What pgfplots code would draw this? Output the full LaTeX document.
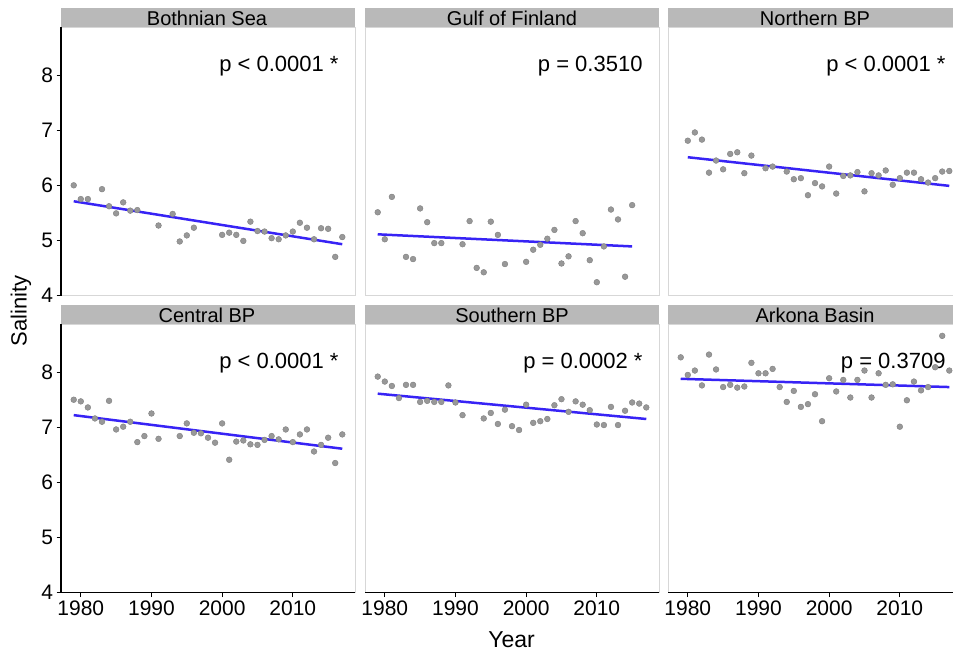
\documentclass[border=0pt]{standalone}
\usepackage{fontspec}
\setmainfont{Liberation Sans}
\usepackage{pgfplots}
\pgfplotsset{compat=1.18}
\usepackage{pgfplotstable}
\definecolor{stripgray}{RGB}{185,185,185}
\definecolor{bordergray}{RGB}{215,215,215}
\definecolor{ptfill}{RGB}{152,152,152}
\definecolor{ptdraw}{RGB}{128,128,128}
\definecolor{lineblue}{RGB}{55,35,245}

\pgfplotstableread{
year sal
1979 6.00
1980 5.75
1981 5.75
1983 5.93
1984 5.62
1985 5.49
1986 5.69
1987 5.54
1988 5.55
1991 5.27
1993 5.48
1994 4.98
1995 5.09
1996 5.23
2000 5.10
2001 5.14
2002 5.10
2003 4.99
2004 5.34
2005 5.17
2006 5.16
2007 5.04
2008 5.02
2009 5.09
2010 5.16
2011 5.32
2012 5.23
2013 5.02
2014 5.22
2015 5.21
2016 4.70
2017 5.06
}\bothnian

\pgfplotstableread{
year sal
1979 5.51
1980 5.02
1981 5.79
1983 4.70
1984 4.66
1985 5.58
1986 5.33
1987 4.95
1988 4.95
1991 4.93
1992 5.35
1993 4.50
1994 4.42
1995 5.34
1996 5.10
1997 4.57
2000 4.61
2001 4.83
2002 4.92
2003 5.03
2004 5.19
2005 4.58
2006 4.71
2007 5.35
2008 5.13
2009 4.64
2010 4.24
2011 4.89
2012 5.56
2013 5.38
2014 4.34
2015 5.64
}\finland

\pgfplotstableread{
year sal
1980 6.81
1981 6.96
1982 6.83
1983 6.23
1984 6.45
1985 6.29
1986 6.57
1987 6.60
1988 6.22
1989 6.54
1991 6.31
1992 6.34
1994 6.25
1995 6.11
1996 6.13
1997 5.82
1998 6.04
1999 5.98
2000 6.34
2001 5.85
2002 6.17
2003 6.18
2004 6.24
2005 5.89
2006 6.22
2007 6.18
2008 6.27
2009 6.01
2010 6.13
2011 6.23
2012 6.23
2013 6.11
2014 6.05
2015 6.13
2016 6.25
2017 6.26
}\northern

\pgfplotstableread{
year sal
1979 7.50
1980 7.47
1981 7.36
1982 7.16
1983 7.10
1984 7.48
1985 6.96
1986 7.01
1987 7.10
1988 6.73
1989 6.84
1990 7.25
1991 6.79
1994 6.84
1995 7.07
1996 6.90
1997 6.89
1998 6.81
1999 6.72
2000 7.07
2001 6.41
2002 6.74
2003 6.76
2004 6.69
2005 6.68
2006 6.77
2007 6.84
2008 6.78
2009 6.96
2010 6.73
2011 6.87
2012 6.96
2013 6.56
2014 6.68
2015 6.81
2016 6.35
2017 6.87
}\central

\pgfplotstableread{
year sal
1979 7.92
1980 7.83
1981 7.75
1982 7.53
1983 7.77
1984 7.77
1985 7.46
1986 7.48
1987 7.46
1988 7.46
1989 7.76
1990 7.45
1991 7.22
1994 7.16
1995 7.26
1996 7.06
1997 7.32
1998 7.02
1999 6.95
2000 7.41
2001 7.08
2002 7.11
2003 7.15
2004 7.40
2005 7.51
2006 7.28
2007 7.47
2008 7.41
2009 7.31
2010 7.05
2011 7.04
2012 7.37
2013 7.04
2014 7.30
2015 7.45
2016 7.43
2017 7.36
}\southern

\pgfplotstableread{
year sal
1979 8.27
1980 7.95
1981 8.03
1982 7.76
1983 8.32
1984 8.05
1985 7.73
1986 7.77
1987 7.72
1988 7.74
1989 8.17
1990 7.98
1991 7.98
1992 8.06
1993 7.73
1994 7.46
1995 7.66
1996 7.37
1997 7.42
1998 7.60
1999 7.11
2000 7.89
2001 7.65
2002 7.86
2003 7.54
2004 7.86
2005 8.03
2006 7.54
2007 7.98
2008 7.77
2009 7.78
2010 7.01
2011 7.49
2012 7.83
2013 7.67
2014 7.73
2015 8.09
2016 8.66
2017 8.03
}\arkona

\pgfplotsset{
  facet/.style={
    scale only axis, width=294pt, height=268.4pt,
    anchor=south west,
    xmin=1977.2, xmax=2018.8, ymin=3.995, ymax=8.87,
    axis line style={draw=bordergray, line width=0.9pt},
    tick align=outside, major tick length=4.5pt,
    tick style={black, line width=1pt},
    ticklabel style={font=\fontsize{21}{24}\selectfont, text=black},
    /pgf/number format/assume math mode=true,
    /pgf/number format/1000 sep={},
    xtick={1980,1990,2000,2010}, ytick={4,5,6,7,8},
    xtick pos=bottom, ytick pos=left,
    clip=false,
  },
  toprow/.style={xtick=\empty},
  rightcols/.style={ytick=\empty},
  pts/.style={only marks, mark=*, mark size=2.9pt,
    mark options={fill=ptfill, draw=ptdraw, line width=0.4pt}},
  fit/.style={lineblue, line width=2.5pt, no marks},
}
\tikzset{
  ptext/.style={anchor=base east, font=\fontsize{22}{26}\selectfont, inner sep=0pt},
  leftline/.style={black, line width=1.4pt},
}

\begin{document}
\begin{tikzpicture}
% strips
\fill[stripgray] (61pt,629.7pt) rectangle (355pt,649pt);
\fill[stripgray] (365pt,629.7pt) rectangle (659pt,649pt);
\fill[stripgray] (668pt,629.7pt) rectangle (962pt,649pt);
\fill[stripgray] (61pt,332.7pt) rectangle (355pt,352pt);
\fill[stripgray] (365pt,332.7pt) rectangle (659pt,352pt);
\fill[stripgray] (668pt,332.7pt) rectangle (962pt,352pt);
\begin{scope}[every node/.style={font=\fontsize{20}{23}\selectfont, anchor=base, inner sep=0pt}]
\node at (207pt,631.3pt) {Bothnian Sea};
\node at (512pt,631.3pt) {Gulf of Finland};
\node at (815pt,631.3pt) {Northern BP};
\node at (207pt,334.3pt) {Central BP};
\node at (512pt,334.3pt) {Southern BP};
\node at (815pt,334.3pt) {Arkona Basin};
\end{scope}

% top row
\begin{axis}[facet, toprow, at={(61pt,361.3pt)}]
\addplot[pts] table[x=year,y=sal] {\bothnian};
\addplot[fit] coordinates {(1979,5.71) (2017,4.93)};
\draw[leftline] (rel axis cs:0,0) -- (rel axis cs:0,1);
\node[ptext] at (axis cs:2016.5,8.06) {p < 0.0001 *};
\end{axis}
\begin{axis}[facet, toprow, rightcols, at={(365pt,361.3pt)}]
\addplot[pts] table[x=year,y=sal] {\finland};
\addplot[fit] coordinates {(1979,5.11) (2015,4.89)};
\node[ptext] at (axis cs:2016.5,8.06) {p = 0.3510};
\end{axis}
\begin{axis}[facet, toprow, rightcols, at={(668pt,361.3pt)}]
\addplot[pts] table[x=year,y=sal] {\northern};
\addplot[fit] coordinates {(1980,6.51) (2017,5.99)};
\node[ptext] at (axis cs:2016.5,8.06) {p < 0.0001 *};
\end{axis}

% bottom row
\begin{axis}[facet, at={(61pt,64.3pt)}]
\addplot[pts] table[x=year,y=sal] {\central};
\addplot[fit] coordinates {(1979,7.22) (2017,6.61)};
\draw[leftline] (rel axis cs:0,0) -- (rel axis cs:0,1);
\draw[leftline] (rel axis cs:0,0) -- (rel axis cs:1,0);
\node[ptext] at (axis cs:2016.5,8.06) {p < 0.0001 *};
\end{axis}
\begin{axis}[facet, rightcols, at={(365pt,64.3pt)}]
\addplot[pts] table[x=year,y=sal] {\southern};
\addplot[fit] coordinates {(1979,7.61) (2017,7.15)};
\draw[leftline] (rel axis cs:0,0) -- (rel axis cs:1,0);
\node[ptext] at (axis cs:2016.5,8.06) {p = 0.0002 *};
\end{axis}
\begin{axis}[facet, rightcols, at={(668pt,64.3pt)}]
\addplot[pts] table[x=year,y=sal] {\arkona};
\addplot[fit] coordinates {(1979,7.88) (2017,7.73)};
\draw[leftline] (rel axis cs:0,0) -- (rel axis cs:1,0);
\node[ptext] at (axis cs:2016.5,8.06) {p = 0.3709};
\end{axis}

% axis titles
\node[rotate=90, font=\fontsize{22}{26}\selectfont, inner sep=0pt] at (21pt,346pt) {Salinity};
\node[anchor=base, font=\fontsize{23}{27}\selectfont, inner sep=0pt] at (511.5pt,10pt) {Year};

\pgfresetboundingbox
\path (0pt,0pt) rectangle (953pt,657pt);
\end{tikzpicture}
\end{document}
